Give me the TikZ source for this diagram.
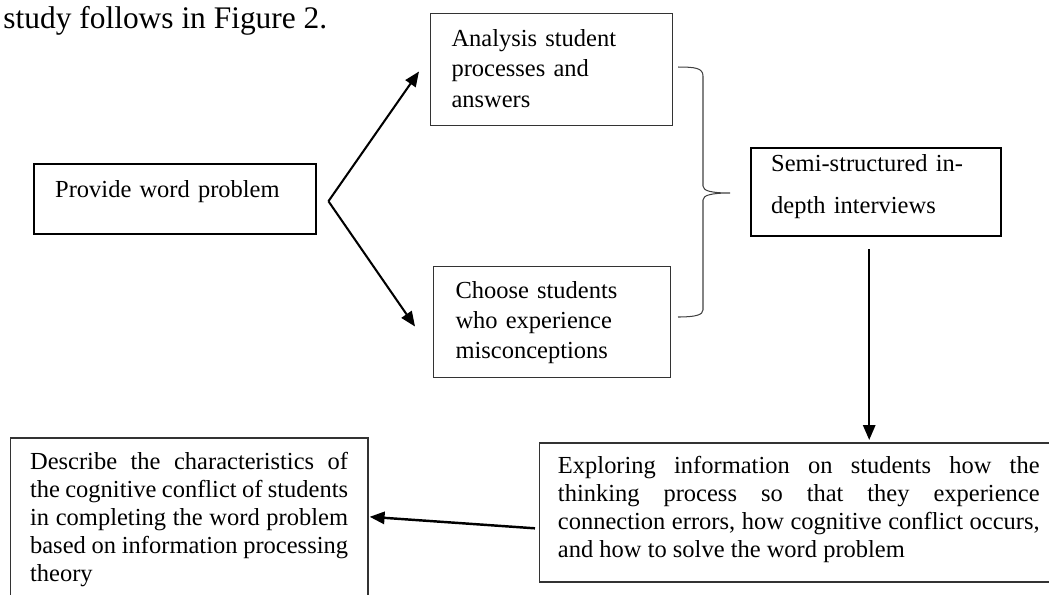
\documentclass[tikz,border=0pt]{standalone}
\usepackage{fontspec}
\setmainfont{Liberation Serif}
\usetikzlibrary{arrows.meta}
\begin{document}
\begin{tikzpicture}[x=0.49pt,y=-0.49pt,
  box/.style={draw=black!80, line width=0.5pt, anchor=north west, inner ysep=0pt,
    font=\fontsize{12}{14.7}\selectfont},
  thickbox/.style={box, draw=black, line width=1.2pt},
  widebox/.style={box, draw=black!80, line width=0.8pt, align=justify,
    font=\fontsize{12}{13.72}\selectfont},
  arr/.style={line width=1pt, -{Triangle[length=7.3pt,width=6pt]}},
  bracestyle/.style={draw=black!75, line width=0.5pt}
]
\useasboundingbox (0,0) rectangle (1049,594);

\node[anchor=base west, inner sep=0pt, font=\fontsize{15.4}{18}\selectfont] (title) at (3,28) {study follows in Figure 2.};

\node[thickbox, inner xsep=10.29pt, text width=117.6pt, text height=16.17pt, text depth=18.13pt, align=left] (P) at (33,163) {Provide word problem};

\node[box, inner xsep=10.29pt, text width=98pt, text height=16.17pt, text depth=38.71pt, align=left,
  font=\fontsize{12}{14.9}\selectfont] (A) at (430,13) {Analysis student\\processes and\\answers};

\node[box, inner xsep=10.78pt, text width=94.57pt, text height=15.68pt, text depth=38.71pt, align=left,
  font=\fontsize{12}{14.7}\selectfont] (C) at (433,266) {Choose students\\who experience\\misconceptions};

\node[thickbox, inner xsep=9.8pt, text width=102.9pt, text height=11.27pt, text depth=31.85pt, align=left,
  font=\fontsize{12}{20.6}\selectfont] (S) at (750,147) {Semi-structured in-\\depth interviews};

\node[widebox, inner xsep=9.15pt, text width=236pt, text height=15.19pt, text depth=52.92pt] (E) at (538.5,442)
  {Exploring information on students how the\linebreak thinking process so that they experience\linebreak connection errors, how cognitive conflict occurs,\linebreak and how to solve the word problem};

\node[widebox, inner xsep=9.7pt, text width=155.8pt, text height=15.68pt, text depth=69.09pt] (D) at (9.5,437)
  {Describe the characteristics of\linebreak the cognitive conflict of students\linebreak in completing the word problem\linebreak based on information processing\linebreak theory};

% fork arrows
\coordinate (fork) at ([shift={(11,2)}]P.east);
\coordinate (tipA) at ([shift={(-11,2)}]A.west);
\coordinate (tipC) at ([shift={(-18,4.5)}]C.west);
\draw[arr] (fork) -- (tipA);
\draw[arr] (fork) -- (tipC);

% brace
\draw[bracestyle] (678,67) .. controls (695,67) and (703,68) .. (703,76)
  -- (703,186) .. controls (703,191) and (712,193) .. (730,193)
  .. controls (712,193) and (703,195) .. (703,200)
  -- (703,310) .. controls (703,315) and (695,317) .. (678,317);

% down arrow
\coordinate (d1) at ([shift={(-7,12)}]S.south);
\coordinate (d2) at (d1 |- E.north);
\draw[arr] (d1) -- ([yshift=1pt]d2);

% left arrow
\coordinate (l1) at ([shift={(-3.5,16)}]E.west);
\coordinate (l2) at ([shift={(1,-7.5)}]D.east);
\draw[arr, line width=1.2pt] (l1) -- (l2);
\end{tikzpicture}
\end{document}
